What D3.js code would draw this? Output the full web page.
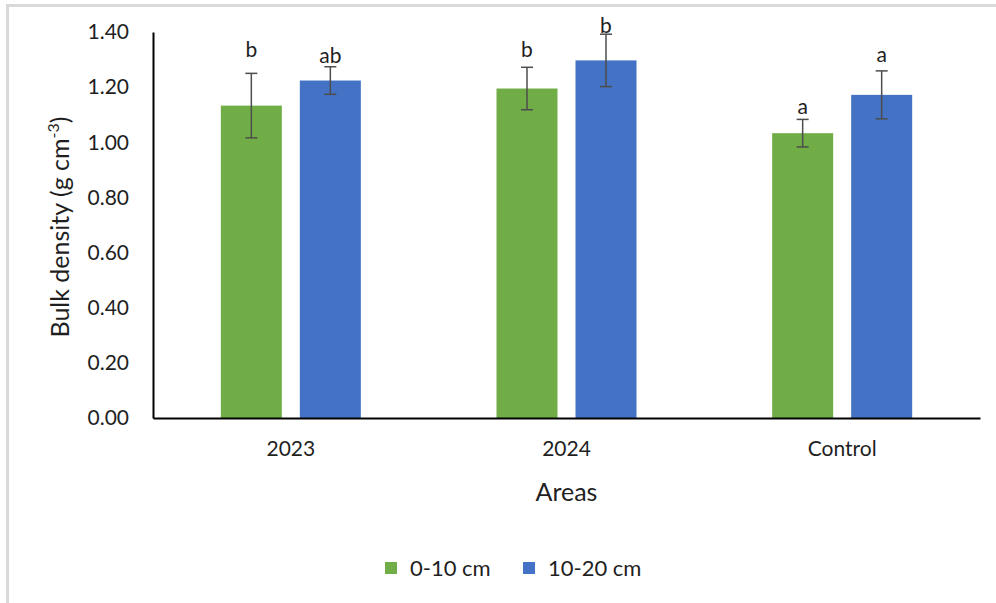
<!DOCTYPE html>
<html>
<head>
<meta charset="utf-8">
<script src="https://cdn.jsdelivr.net/npm/d3@7"></script>
<style>
  body { margin: 0; background: #fff; }
  text { font-family: Lato, "Open Sans", sans-serif; fill: #1f1f1f; }
</style>
</head>
<body>
<script>
// data
const areas = ["2023", "2024", "Control"];
const depths = ["0-10 cm", "10-20 cm"];
const depth0 = [1.133, 1.195, 1.033];   // 0-10 cm means
const depth1 = [1.224, 1.297, 1.172];   // 10-20 cm means
const err0 = [0.117, 0.077, 0.050];
const err1 = [0.050, 0.095, 0.087];
const letters0 = ["b", "b", "a"];
const letters1 = ["ab", "b", "a"];
const letterAt0 = [1.310, 1.310, 1.103];  // letter baseline, in g cm-3
const letterAt1 = [1.287, 1.397, 1.291];
const yTicks = [0, 0.2, 0.4, 0.6, 0.8, 1.0, 1.2, 1.4];

const width = 996, height = 603;
const margin = {top: 32, right: 16, bottom: 185, left: 153};
const colors = ["#70ad47", "#4472c4"];
const ink = "#1f1f1f";

const svg = d3.select("body").append("svg")
    .attr("width", width)
    .attr("height", height);

// chart frame (only top and left edges visible in the crop)
svg.append("path")
    .attr("d", `M7.5,${height}V5.5H${width}`)
    .attr("fill", "none")
    .attr("stroke", "#d9d9d9")
    .attr("stroke-width", 3);

const x = d3.scaleBand()
    .domain(areas)
    .range([margin.left, width - margin.right]);

const x1 = d3.scaleBand()
    .domain([0, 1])
    .range([0, 140])
    .paddingInner(18 / 79);

const y = d3.scaleLinear()
    .domain([0, 1.4])
    .range([height - margin.bottom, margin.top]);

const rows = areas.flatMap((a, i) => [
  {area: a, k: 0, v: depth0[i], e: err0[i], lab: letters0[i], ly: letterAt0[i]},
  {area: a, k: 1, v: depth1[i], e: err1[i], lab: letters1[i], ly: letterAt1[i]}
]);

const bx = d => x(d.area) + x.bandwidth() / 2 - 70 + x1(d.k);

svg.append("g")
  .selectAll("rect")
  .data(rows)
  .join("rect")
    .attr("x", bx)
    .attr("y", d => y(d.v))
    .attr("width", x1.bandwidth())
    .attr("height", d => y(0) - y(d.v))
    .attr("fill", d => colors[d.k]);

// error bars
const eb = svg.append("g")
    .attr("stroke", "#4d4d4d")
    .attr("stroke-width", 1.5)
  .selectAll("g")
  .data(rows)
  .join("g")
    .attr("transform", d => `translate(${bx(d) + x1.bandwidth() / 2},0)`);

eb.append("line")
    .attr("y1", d => y(d.v + d.e))
    .attr("y2", d => y(d.v - d.e));
eb.append("line")
    .attr("x1", -6).attr("x2", 6)
    .attr("y1", d => y(d.v + d.e))
    .attr("y2", d => y(d.v + d.e));
eb.append("line")
    .attr("x1", -6).attr("x2", 6)
    .attr("y1", d => y(d.v - d.e))
    .attr("y2", d => y(d.v - d.e));

// significance letters
svg.append("g")
  .selectAll("text")
  .data(rows)
  .join("text")
    .attr("x", d => bx(d) + x1.bandwidth() / 2)
    .attr("y", d => y(d.ly))
    .attr("text-anchor", "middle")
    .attr("font-size", 21)
    .text(d => d.lab);

// y axis
svg.append("g")
    .attr("transform", `translate(${margin.left},0)`)
    .call(d3.axisLeft(y).tickValues(yTicks).tickFormat(d3.format(".2f")).tickSize(0).tickPadding(24))
    .call(g => g.select(".domain").attr("stroke", "#000").attr("stroke-width", 2))
    .call(g => g.selectAll("text").attr("font-size", 21).attr("font-family", "Lato, sans-serif").attr("fill", ink));

// x axis
svg.append("g")
    .attr("transform", `translate(0,${y(0)})`)
    .call(d3.axisBottom(x).tickSize(0).tickPadding(23))
    .call(g => g.select(".domain").attr("stroke", "#000").attr("stroke-width", 2))
    .call(g => g.selectAll("text").attr("font-size", 21).attr("font-family", "Lato, sans-serif").attr("fill", ink));

// axis titles
svg.append("text")
    .attr("transform", `translate(69,${(margin.top + y(0)) / 2 + 2}) rotate(-90)`)
    .attr("text-anchor", "middle")
    .attr("font-size", 25)
    .call(t => {
      t.append("tspan").text("Bulk density (g cm");
      t.append("tspan").attr("dy", -10).attr("font-size", 16).text("-3");
      t.append("tspan").attr("dy", 10).text(")");
    });

svg.append("text")
    .attr("x", x.range()[0] + (x.range()[1] - x.range()[0]) / 2)
    .attr("y", 501)
    .attr("text-anchor", "middle")
    .attr("font-size", 25)
    .text("Areas");

// legend
const legend = svg.append("g")
  .selectAll("g")
  .data(depths)
  .join("g")
    .attr("transform", (d, i) => `translate(${[385, 523][i]},568)`);
legend.append("rect")
    .attr("y", -6)
    .attr("width", 12).attr("height", 12)
    .attr("fill", (d, i) => colors[i]);
legend.append("text")
    .attr("x", 25)
    .attr("y", 8)
    .attr("font-size", 22)
    .text(d => d);
</script>
</body>
</html>
